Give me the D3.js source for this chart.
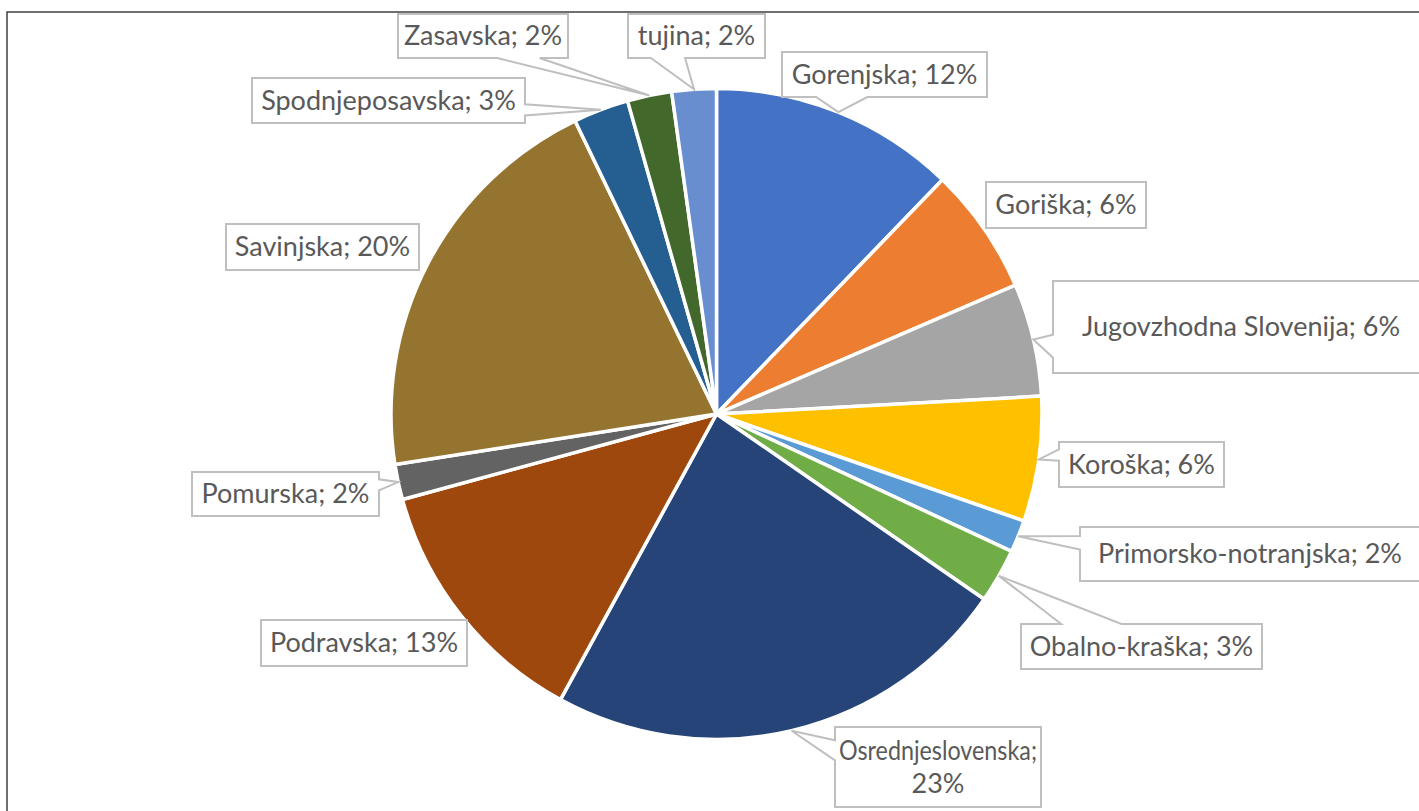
<!DOCTYPE html>
<html>
<head>
<meta charset="utf-8">
<script src="https://cdn.jsdelivr.net/npm/d3@7"></script>
<style>
  html, body { margin: 0; padding: 0; background: #fff; overflow: hidden; }
  svg { display: block; }
</style>
</head>
<body>
<svg id="mainSvg"></svg>
<script>
// regije, v vrstnem redu kot v tortnem grafikonu (v smeri urinega kazalca od vrha)
const regions = ['Gorenjska', 'Goriška', 'Jugovzhodna Slovenija', 'Koroška', 'Primorsko-notranjska',
    'Obalno-kraška', 'Osrednjeslovenska', 'Podravska', 'Pomurska', 'Savinjska',
    'Spodnjeposavska', 'Zasavska', 'tujina']
const shares = [12.2, 6.3, 5.6, 6.2, 1.6, 2.7, 23.3, 12.8, 1.75, 20.3, 2.75, 2.2, 2.2]
const colors = ['#4472C4', '#ED7D31', '#A5A5A5', '#FFC000', '#5B9BD5', '#70AD47', '#264478',
    '#9E480E', '#636363', '#957430', '#255E91', '#43682B', '#698ED0']

// label boxes (x, y, w, h) - layout only
const labelBoxes = [
    [782, 52, 205, 45], [986, 182, 160, 46], [1053, 281, 380, 92], [1059, 442, 165, 45],
    [1080, 527, 350, 54], [1021, 624, 241, 45], [835, 727, 206, 80], [261, 620, 206, 46],
    [192, 472, 187, 44], [226, 224, 193, 46], [252, 78, 273, 45], [398, 14, 170, 44],
    [628, 14, 137, 44]
]

const style = {
    W: 1419, H: 811,
    cx: 716.5, cy: 414, r: 325.5,
    font: 'Lato, "Open Sans", sans-serif',
    fontSize: 27,
    textColor: '#595959',
    boxStroke: '#BFBFBF'
}

const svg = d3.select('#mainSvg')
    .attr('width', style.W)
    .attr('height', style.H)

svg.append('rect')
    .attr('x', 7).attr('y', 12)
    .attr('width', style.W + 20).attr('height', style.H + 20)
    .attr('fill', '#fff')
    .attr('stroke', '#404040')
    .attr('stroke-width', 1.5)

const data = regions.map((d, i) => ({ name: d, value: shares[i], color: colors[i], box: labelBoxes[i] }))
const total = d3.sum(shares)

const pie = d3.pie().sort(null).value(d => d.value)
const arc = d3.arc().innerRadius(0).outerRadius(style.r)
const arcs = pie(data)

const pieG = svg.append('g')
    .attr('transform', `translate(${style.cx},${style.cy})`)

pieG.selectAll('path')
    .data(arcs)
    .join('path')
    .attr('d', arc)
    .attr('fill', d => d.data.color)
    .attr('stroke', '#fff')
    .attr('stroke-width', 3.5)
    .attr('stroke-linejoin', 'round')

// wedge callout shape like office "wedgeRectCallout"
function calloutPath(b, ax, ay) {
    const [bx, by, w, h] = b
    const dx = ax - (bx + w / 2), dy = ay - (by + h / 2)
    const px = ax - bx, py = ay - by
    // no wedge when the anchor is (almost) touching the box
    const gx = Math.max(0, -px, px - w), gy = Math.max(0, -py, py - h)
    let pts
    if (Math.hypot(gx, gy) < 10) {
        pts = [[0, 0], [w, 0], [w, h], [0, h]]
    } else {
        const dz = Math.abs(dy) - Math.abs(dx * h / w)
        const x1 = w * (dx > 0 ? 7 : 2) / 12, x2 = w * (dx > 0 ? 10 : 5) / 12
        const y1 = h * (dy > 0 ? 7 : 2) / 12, y2 = h * (dy > 0 ? 10 : 5) / 12
        if (dz > 0) {
            if (dy < 0) pts = [[0, 0], [x1, 0], [px, py], [x2, 0], [w, 0], [w, h], [0, h]]
            else pts = [[0, 0], [w, 0], [w, h], [x2, h], [px, py], [x1, h], [0, h]]
        } else {
            if (dx < 0) pts = [[0, 0], [w, 0], [w, h], [0, h], [0, y2], [px, py], [0, y1]]
            else pts = [[0, 0], [w, 0], [w, y1], [px, py], [w, y2], [w, h], [0, h]]
        }
    }
    return 'M' + pts.map(p => [p[0] + bx, p[1] + by].join(',')).join('L') + 'Z'
}

const labelG = svg.append('g')

arcs.forEach(function (a) {
    const mid = (a.startAngle + a.endAngle) / 2
    const ax = style.cx + style.r * Math.sin(mid)
    const ay = style.cy - style.r * Math.cos(mid)
    const b = a.data.box

    labelG.append('path')
        .attr('d', calloutPath(b, ax, ay))
        .attr('fill', '#fff')
        .attr('stroke', style.boxStroke)
        .attr('stroke-width', 2)
        .attr('stroke-linejoin', 'miter')

    const pct = Math.round(a.data.value / total * 100) + '%'
    let lines = [a.data.name + '; ' + pct]
    if (a.data.name === 'Osrednjeslovenska') lines = [a.data.name + ';', pct]

    const clipped = b[0] + b[2] > style.W
    const lineH = 33
    const t = labelG.append('text')
        .attr('font-family', style.font)
        .attr('font-size', style.fontSize)
        .attr('fill', style.textColor)
        .attr('text-anchor', clipped ? 'start' : 'middle')

    lines.forEach((ln, i) => {
        const ts = t.append('tspan')
            .attr('x', clipped ? b[0] + (b[3] > 60 ? 29 : 18) : b[0] + b[2] / 2)
            .attr('y', b[1] + b[3] / 2 + (i - (lines.length - 1) / 2) * lineH)
            .attr('dy', '0.35em')
            .text(ln)
        // the fallback font is a bit wider than the original, keep long lines inside the box
        const maxW = b[2] - 8
        const len = ts.node().getComputedTextLength()
        if (!clipped && len > maxW) {
            ts.attr('font-size', style.fontSize - 1)
            if (ts.node().getComputedTextLength() > maxW) {
                ts.attr('textLength', maxW).attr('lengthAdjust', 'spacingAndGlyphs')
            }
        }
    })
})
</script>
</body>
</html>
